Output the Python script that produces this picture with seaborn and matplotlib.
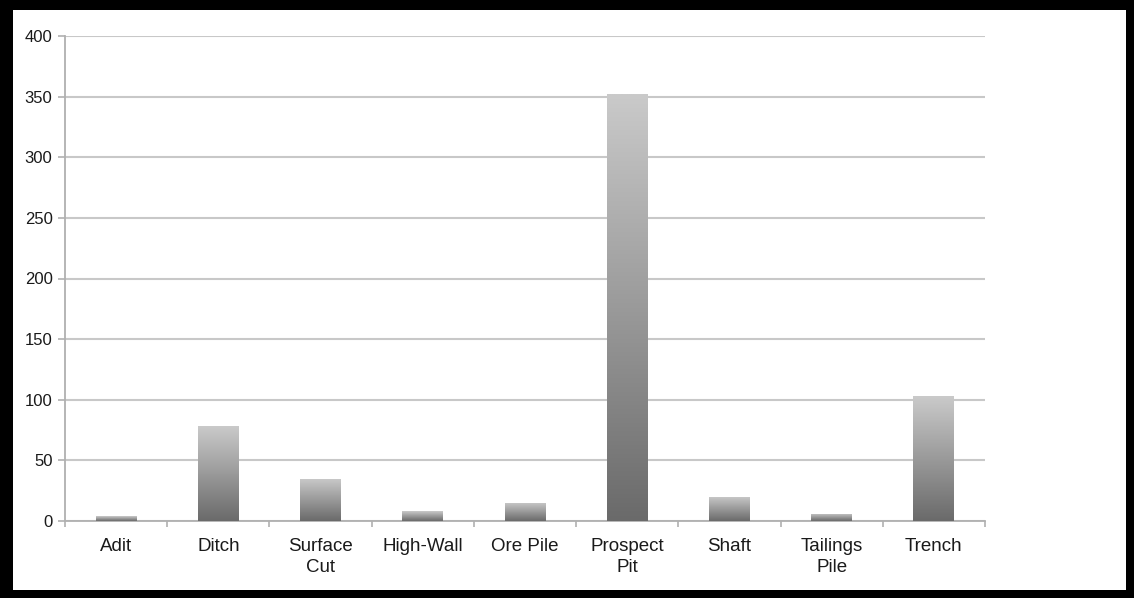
import matplotlib
matplotlib.use("Agg")
import matplotlib.pyplot as plt
from matplotlib.patches import Rectangle
import numpy as np
import pandas as pd
import seaborn as sns

categories = ["Adit", "Ditch", "Surface\nCut", "High-Wall", "Ore Pile",
              "Prospect\nPit", "Shaft", "Tailings\nPile", "Trench"]
counts = [4, 78, 35, 8, 15, 352, 20, 6, 103]
y_ticks = [0, 50, 100, 150, 200, 250, 300, 350, 400]

sns.set_theme(style="white")
plt.rcParams['font.family'] = ['Liberation Sans', 'DejaVu Sans']

df = pd.DataFrame({"type": categories, "count": counts})

fig = plt.figure(figsize=(11.38, 5.98), dpi=100)
W, H = 1138, 598
# black frame around the chart (below the axes)
fig.patches.append(Rectangle((0, 0), 1134 / W, 1, transform=fig.transFigure,
                             facecolor="black", edgecolor="none", zorder=-2))
fig.patches.append(Rectangle((13 / W, 8 / H), (1126 - 13) / W, (590 - 10) / H,
                             transform=fig.transFigure, facecolor="white",
                             edgecolor="none", zorder=-1))

ax = fig.add_axes([65 / W, 1 - 521 / H, (985 - 65) / W, (521 - 36) / H])
ax.patch.set_alpha(0)

sns.barplot(data=df, x="type", y="count", ax=ax, width=0.4,
            color="#999999", saturation=1, zorder=3)

# gradient fill: dark at bottom, light at top
cmap = matplotlib.colors.LinearSegmentedColormap.from_list("g", ["#6a6a6a", "#cacaca"])
grad = np.linspace(0, 1, 256).reshape(-1, 1)
for p in list(ax.patches):
    x0, y0 = p.get_x(), p.get_y()
    w, h = p.get_width(), p.get_height()
    im = ax.imshow(grad, cmap=cmap, origin="lower", aspect="auto",
                   extent=[x0, x0 + w, y0, y0 + h], zorder=4)
    im.set_clip_path(p)
    p.set_edgecolor("none")

ax.set_xlim(-0.5, len(categories) - 0.5)
ax.set_ylim(0, 400)
ax.set_yticks(y_ticks)
ax.yaxis.grid(True, color="#c8c8c8", linewidth=1.5, zorder=1)
ax.xaxis.grid(False)
ax.set_xlabel("")
ax.set_ylabel("")

for s in ["top", "right"]:
    ax.spines[s].set_visible(False)
for s in ["left", "bottom"]:
    ax.spines[s].set_color("#b0b0b0")
    ax.spines[s].set_linewidth(1.3)

ax.tick_params(axis="y", left=True, length=5, color="#b0b0b0", width=1.2,
               labelsize=12, pad=4, labelcolor="#1a1a1a")
ax.tick_params(axis="x", bottom=False, labelsize=13.5, pad=6.5, labelcolor="#1a1a1a")
for t in ax.get_xticklabels():
    t.set_linespacing(1.3)
# tick marks at category boundaries
ax.set_xticks(np.arange(-0.5, len(categories)), minor=True)
ax.tick_params(axis="x", which="minor", bottom=True, length=4, color="#b0b0b0", width=1.2)

fig.savefig("out.png", dpi=100)
